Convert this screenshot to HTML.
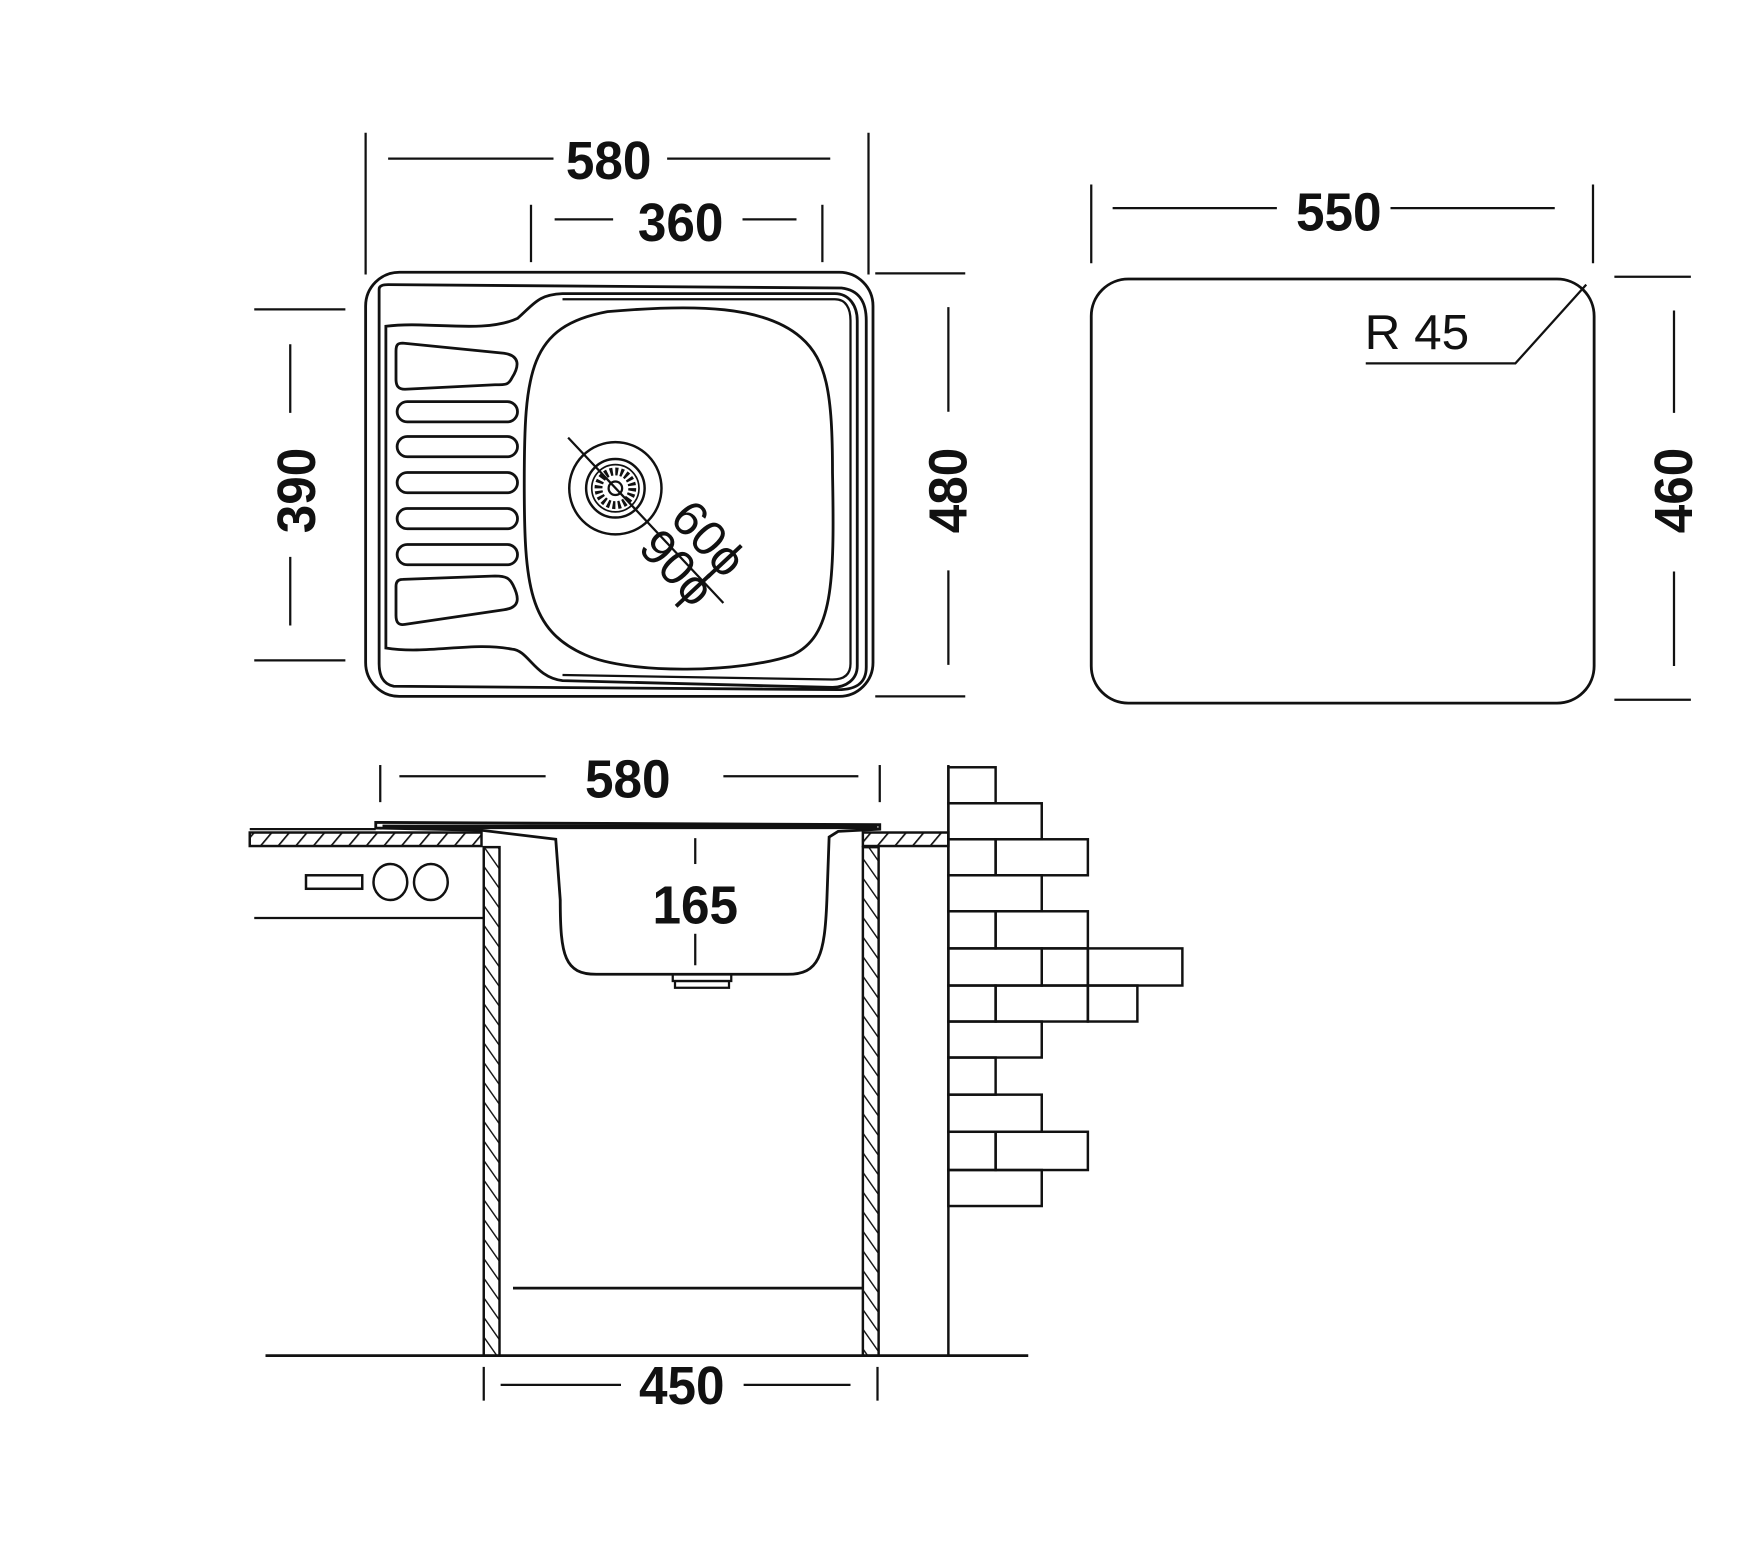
<!DOCTYPE html>
<html><head><meta charset="utf-8"><style>
html,body{margin:0;padding:0;background:#fff}
svg{display:block}
.d{font-family:"Liberation Sans",sans-serif;font-weight:bold;font-size:48px;fill:#111}
</style></head><body>
<svg width="1755" height="1544" viewBox="0 0 1560 1372.4" xmlns="http://www.w3.org/2000/svg">
<defs>
<pattern id="h1" width="12" height="12" patternUnits="userSpaceOnUse" patternTransform="rotate(40)">
<rect width="12" height="12" fill="#fff"/><line x1="0" y1="0" x2="0" y2="12" stroke="#111" stroke-width="3"/></pattern>
<pattern id="h2" width="10" height="10" patternUnits="userSpaceOnUse" patternTransform="rotate(-35)">
<rect width="10" height="10" fill="#fff"/><line x1="0" y1="0" x2="0" y2="10" stroke="#111" stroke-width="2.5"/></pattern>
</defs>
<g stroke="#111" fill="none" stroke-width="2">
<line x1="325" y1="118" x2="325" y2="244"/>
<line x1="772" y1="118" x2="772" y2="244"/>
<line x1="345" y1="141" x2="492" y2="141"/>
<line x1="593" y1="141" x2="738" y2="141"/>
<line x1="472" y1="182" x2="472" y2="233"/>
<line x1="731" y1="182" x2="731" y2="233"/>
<line x1="493" y1="195" x2="545" y2="195"/>
<line x1="660" y1="195" x2="708" y2="195"/>
<line x1="226" y1="275" x2="307" y2="275"/>
<line x1="226" y1="587" x2="307" y2="587"/>
<line x1="258" y1="306" x2="258" y2="367"/>
<line x1="258" y1="495" x2="258" y2="556"/>
<line x1="778" y1="243" x2="858" y2="243"/>
<line x1="778" y1="619" x2="858" y2="619"/>
<line x1="843" y1="273" x2="843" y2="366"/>
<line x1="843" y1="507" x2="843" y2="591"/>
<rect x="325" y="242" width="451" height="377" rx="30" stroke-width="2.5"/>
<path d="M343 290 C 380 285 430 297 460 283 C 475 270 478 262 500 261 L 742 261 C 755 261 762 272 762 285 L 762 592 C 762 604 752 611 740 611 L 500 605 C 475 602 470 578 455 577 C 420 570 380 582 343 576 Z" stroke-width="2.5"/>
<path d="M337 257 C 337 254 340 253 345 253 L 748 256 C 765 258 770 270 770 285 L 770 593 C 770 608 760 613 745 613 L 350 610 C 340 608 337 600 337 590 Z" stroke-width="2.5"/>
<path d="M500 266 L 742 266 C 752 266 756 274 756 285 L 756 590 C 756 600 750 604 740 604 L 500 600" stroke-width="2"/>
<path d="M540 277 C 620 270 680 272 712 300 C 735 320 740 350 740 420 C 742 520 740 565 705 582 C 660 598 560 600 520 582 C 470 560 466 520 466 430 C 466 330 470 290 540 277 Z" stroke-width="2.5"/>
<path d="M358 305 L 448 314 C 462 316 462 325 455 336 C 452 342 450 342 440 342 L 360 346 C 354 346 352 343 352 337 L 352 312 C 352 306 354 305 358 305 Z" stroke-width="2.5"/>
<rect x="353" y="357" width="107" height="18" rx="9" stroke-width="2.5"/>
<rect x="353" y="388" width="107" height="18" rx="9" stroke-width="2.5"/>
<rect x="353" y="420" width="107" height="18" rx="9" stroke-width="2.5"/>
<rect x="353" y="452" width="107" height="18" rx="9" stroke-width="2.5"/>
<rect x="353" y="484" width="107" height="18" rx="9" stroke-width="2.5"/>
<path d="M358 515 L 440 512 C 450 512 453 514 456 520 C 462 532 462 540 448 542 L 360 555 C 354 556 352 553 352 547 L 352 521 C 352 517 354 515 358 515 Z" stroke-width="2.5"/>
<circle cx="547" cy="434" r="41" stroke-width="2.2"/>
<circle cx="547" cy="434" r="26" stroke-width="2.2"/>
<circle cx="547" cy="434" r="21" stroke-width="1.5"/>
<circle cx="547" cy="434" r="15" stroke-width="7" stroke-dasharray="2.5 2.2"/>
<circle cx="547" cy="434" r="6" stroke-width="2"/>
<line x1="505" y1="389" x2="643" y2="536" stroke-width="2"/>
<line x1="970" y1="164" x2="970" y2="234"/>
<line x1="1416" y1="164" x2="1416" y2="234"/>
<line x1="989" y1="185" x2="1135" y2="185"/>
<line x1="1236" y1="185" x2="1382" y2="185"/>
<rect x="970" y="248" width="447" height="377" rx="33" stroke-width="2.5"/>
<polyline points="1214,323 1347,323 1410,253" stroke-width="2"/>
<line x1="1435" y1="246" x2="1503" y2="246"/>
<line x1="1435" y1="622" x2="1503" y2="622"/>
<line x1="1488" y1="276" x2="1488" y2="367"/>
<line x1="1488" y1="508" x2="1488" y2="592"/>
<line x1="338" y1="680" x2="338" y2="713"/>
<line x1="782" y1="680" x2="782" y2="713"/>
<line x1="355" y1="690" x2="485" y2="690"/>
<line x1="643" y1="690" x2="763" y2="690"/>
<rect x="222" y="740" width="206" height="12" fill="url(#h1)" stroke-width="2.2"/>
<rect x="767" y="740" width="76" height="12" fill="url(#h1)" stroke-width="2.2"/>
<line x1="222" y1="737" x2="334" y2="737"/>
<path d="M334 731 L 782 733 L 782 737 L 745 739 L 737 744 L 735 800 C 733 850 728 866 700 866 L 530 866 C 502 866 498 850 498 800 L 494 746 L 428 738 L 334 736 Z" stroke-width="2.5" fill="#fff"/>
<line x1="340" y1="735" x2="780" y2="735" stroke-width="4"/>
<rect x="598" y="866" width="52" height="6" stroke-width="2"/>
<rect x="600" y="872" width="48" height="6" stroke-width="2"/>
<line x1="618" y1="745" x2="618" y2="768"/>
<line x1="618" y1="830" x2="618" y2="858"/>
<rect x="430" y="753" width="14" height="452" fill="url(#h2)" stroke-width="2.2"/>
<rect x="767" y="753" width="14" height="452" fill="url(#h2)" stroke-width="2.2"/>
<rect x="272" y="778" width="50" height="12" stroke-width="2.2"/>
<ellipse cx="347" cy="784" rx="15" ry="16" stroke-width="2.2"/>
<ellipse cx="383" cy="784" rx="15" ry="16" stroke-width="2.2"/>
<line x1="226" y1="816" x2="430" y2="816"/>
<line x1="456" y1="1145" x2="767" y2="1145" stroke-width="2.5"/>
<line x1="236" y1="1205" x2="914" y2="1205" stroke-width="2.5"/>
<line x1="430" y1="1215" x2="430" y2="1245"/>
<line x1="780" y1="1215" x2="780" y2="1245"/>
<line x1="445" y1="1231" x2="552" y2="1231"/>
<line x1="661" y1="1231" x2="756" y2="1231"/>
<g stroke-width="2.2">
<line x1="843" y1="680" x2="843" y2="1205"/>
<rect x="843" y="682" width="42" height="32"/>
<rect x="843" y="714" width="83" height="32"/>
<rect x="843" y="746" width="42" height="32"/><rect x="885" y="746" width="82" height="32"/>
<rect x="843" y="778" width="83" height="32"/>
<rect x="843" y="810" width="42" height="33"/><rect x="885" y="810" width="82" height="33"/>
<rect x="843" y="843" width="83" height="33"/><rect x="926" y="843" width="41" height="33"/><rect x="967" y="843" width="84" height="33"/>
<rect x="843" y="876" width="42" height="32"/><rect x="885" y="876" width="82" height="32"/><rect x="967" y="876" width="44" height="32"/>
<rect x="843" y="908" width="83" height="32"/>
<rect x="843" y="940" width="42" height="33"/>
<rect x="843" y="973" width="83" height="33"/>
<rect x="843" y="1006" width="42" height="34"/><rect x="885" y="1006" width="82" height="34"/>
<rect x="843" y="1040" width="83" height="32"/>
</g>
</g>
<g class="d">
<text x="541" y="159" text-anchor="middle" transform="translate(541 0) scale(0.95 1) translate(-541 0)">580</text>
<text x="605" y="214" text-anchor="middle" transform="translate(605 0) scale(0.95 1) translate(-605 0)">360</text>
<text x="1190" y="205" text-anchor="middle" transform="translate(1190 0) scale(0.95 1) translate(-1190 0)">550</text>
<text x="558" y="709" text-anchor="middle" transform="translate(558 0) scale(0.95 1) translate(-558 0)">580</text>
<text x="618" y="821" text-anchor="middle" transform="translate(618 0) scale(0.95 1) translate(-618 0)">165</text>
<text x="606" y="1248" text-anchor="middle" transform="translate(606 0) scale(0.95 1) translate(-606 0)">450</text>
<text transform="translate(280 436) rotate(-90) scale(0.95 1)" text-anchor="middle">390</text>
<text transform="translate(859 436) rotate(-90) scale(0.95 1)" text-anchor="middle">480</text>
<text transform="translate(1504 436) rotate(-90) scale(0.95 1)" text-anchor="middle">460</text>
</g>
<text x="1213" y="310" font-family="Liberation Sans,sans-serif" font-size="44" fill="#111">R 45</text>
<g font-family="Liberation Sans,DejaVu Sans,sans-serif" font-size="44" fill="#111">
<text transform="translate(594 462) rotate(47)">60ϕ</text>
<text transform="translate(566 488) rotate(47)">90ϕ</text>
</g>
</svg>
</body></html>
